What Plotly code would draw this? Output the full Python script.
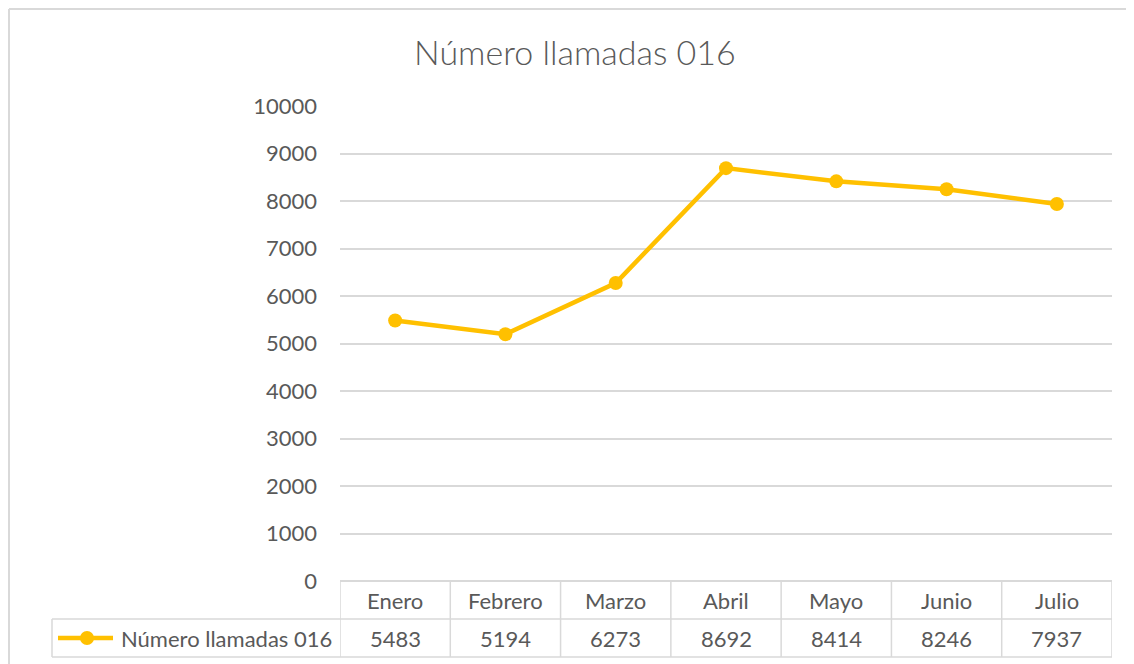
import plotly.graph_objects as go

months = ["Enero", "Febrero", "Marzo", "Abril", "Mayo", "Junio", "Julio"]
calls = [5483, 5194, 6273, 8692, 8414, 8246, 7937]
series_name = "Número llamadas 016"
title_text = "Número llamadas 016"

# page body margin offsets the figure by 8px; compensate
OFF = 8
W, H = 1134 - OFF, 664 - OFF
PL, PR, PT, PB = 340, 1112, 106, 581   # plot area in screenshot pixels
pw, ph = PR - PL, PB - PT

def px_x(x):
    return (x - PL) / pw

def px_y(y):
    return (PB - y) / ph

FONT = "Lato"
TXT = "#595959"
GRID = "#D9D9D9"
GOLD = "#FFC000"
FS = 22

n = len(months)
xs = list(range(n))

fig = go.Figure()
fig.add_trace(go.Scatter(
    x=xs, y=calls, mode="lines+markers", name=series_name,
    line=dict(color=GOLD, width=4.5),
    marker=dict(color=GOLD, size=14),
    showlegend=False, cliponaxis=False,
))

shapes = []
annotations = []
y_head_bot = px_y(619)
y_val_bot = px_y(657)
y_head_mid = px_y(600)
y_val_mid = px_y(638)

for i in range(n + 1):
    shapes.append(dict(type="line", xref="x", yref="paper", x0=i - 0.5, x1=i - 0.5,
                       y0=0, y1=y_val_bot, line=dict(color=GRID, width=1.5), layer="below"))
for yy in (y_head_bot, y_val_bot):
    shapes.append(dict(type="line", xref="paper", yref="paper", x0=px_x(52), x1=1,
                       y0=yy, y1=yy, line=dict(color=GRID, width=1.5)))
shapes.append(dict(type="line", xref="paper", yref="paper", x0=px_x(52), x1=px_x(52),
                   y0=y_head_bot, y1=y_val_bot, line=dict(color=GRID, width=1.5)))
# outer chart border (left + top visible)
shapes.append(dict(type="line", xref="paper", yref="paper", x0=px_x(9), x1=px_x(9),
                   y0=px_y(680), y1=px_y(9), line=dict(color=GRID, width=2)))
shapes.append(dict(type="line", xref="paper", yref="paper", x0=px_x(9), x1=px_x(1145),
                   y0=px_y(9), y1=px_y(9), line=dict(color=GRID, width=2)))
shapes.append(dict(type="line", xref="paper", yref="paper", x0=px_x(58), x1=px_x(113),
                   y0=y_val_mid, y1=y_val_mid, line=dict(color=GOLD, width=4.5)))
r = 7
shapes.append(dict(type="circle", xref="paper", yref="paper", x0=px_x(87 - r), x1=px_x(87 + r),
                   y0=px_y(638 + r), y1=px_y(638 - r), fillcolor=GOLD, line=dict(color=GOLD, width=0)))

for i, (m, v) in enumerate(zip(months, calls)):
    annotations.append(dict(x=i, y=y_head_mid, xref="x", yref="paper", text=m, showarrow=False,
                            xanchor="center", yanchor="middle",
                            font=dict(family=FONT, size=FS, color=TXT)))
    annotations.append(dict(x=i, y=y_val_mid, xref="x", yref="paper", text=str(v), showarrow=False,
                            xanchor="center", yanchor="middle",
                            font=dict(family=FONT, size=FS, color=TXT)))
annotations.append(dict(x=px_x(334), y=y_val_mid, xref="paper", yref="paper", text=series_name,
                        showarrow=False, xanchor="right", yanchor="middle",
                        font=dict(family=FONT, size=FS, color=TXT)))
annotations.append(dict(x=px_x(575), y=px_y(52), xref="paper", yref="paper", text=title_text,
                        showarrow=False, xanchor="center", yanchor="middle",
                        font=dict(family=FONT, size=34, color=TXT, weight=300)))

fig.update_layout(
    width=W, height=H,
    margin=dict(l=PL - OFF, r=W - (PR - OFF), t=PT - OFF, b=H - (PB - OFF)),
    paper_bgcolor="white", plot_bgcolor="white",
    shapes=shapes, annotations=annotations,
    xaxis=dict(range=[-0.5, n - 0.5], showticklabels=False, showgrid=False, zeroline=False,
               showline=False, ticks=""),
    yaxis=dict(range=[0, 10000], dtick=1000, tickformat="d", showgrid=True, gridcolor=GRID,
               gridwidth=1.5, zeroline=True, zerolinecolor=GRID, zerolinewidth=1.5, ticks="",
               ticklabelstandoff=22, tickfont=dict(family=FONT, size=FS, color=TXT)),
)

fig.write_html("out.html")
